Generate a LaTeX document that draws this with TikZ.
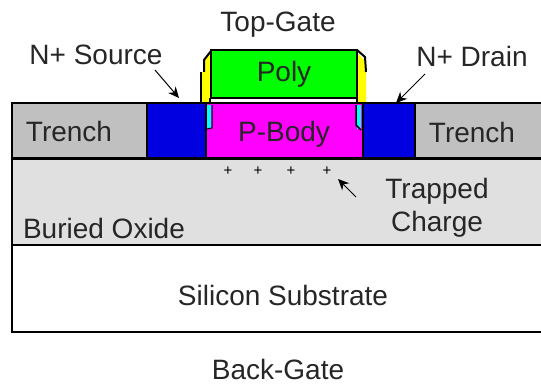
\documentclass[tikz,border=0pt]{standalone}
\usepackage{fontspec}
\setmainfont{Liberation Sans}
\usetikzlibrary{arrows.meta}
\definecolor{bodypink}{RGB}{255,0,255}
\definecolor{polygreen}{RGB}{0,255,0}
\definecolor{dopedblue}{RGB}{0,0,224}
\definecolor{spaceryellow}{RGB}{255,255,0}
\definecolor{oxidecyan}{RGB}{0,255,255}
\definecolor{trenchgray}{RGB}{192,192,192}
\definecolor{oxidegray}{RGB}{224,224,224}
\tikzset{
  regionlabel/.style={font=\fontsize{28}{33}\selectfont, inner sep=0pt, text=black!85},
  outline/.style={line width=2pt, black},
  pointer/.style={-{Stealth[length=11pt, width=10pt]}, line width=1pt, black}
}
\begin{document}
\begin{tikzpicture}[x=1pt, y=-1pt]

  \useasboundingbox (0, 0) rectangle (541, 385);

  % Substrate and oxide
  \fill[white] (12, 245) rectangle (541, 332);
  \fill[oxidegray] (12, 159) rectangle (541, 245);

  % Trench regions
  \fill[trenchgray] (12, 104) rectangle (147, 158);
  \fill[trenchgray] (415, 104) rectangle (541, 158);

  % Source and drain
  \fill[dopedblue] (147, 104) rectangle (206, 158);
  \fill[dopedblue] (363, 104) rectangle (415, 158);

  % Body
  \fill[bodypink] (206, 104) rectangle (363, 158);

  % Poly gate
  \fill[polygreen] (211, 50) rectangle (357, 98);

  % Spacers
  \fill[spaceryellow] (202, 103) -- (202, 72) -- (204, 72) -- (204, 60) -- (210, 54) -- (210, 103) -- cycle;
  \fill[spaceryellow] (366, 103) -- (366, 62) -- (358, 54) -- (358, 103) -- cycle;

  % Thin oxide
  \fill[oxidecyan] (207, 105) rectangle (211, 128);
  \fill[oxidecyan] (357, 105) rectangle (361, 129);

  % Outlines
  \draw[outline] (541, 103) -- (12, 103) -- (12, 332) -- (541, 332);
  \draw[line width=3pt] (12, 159) -- (541, 159);
  \draw[outline] (12, 245) -- (541, 245);
  \draw[outline] (147, 103) -- (147, 159);
  \draw[outline] (206, 103) -- (206, 159);
  \draw[outline] (363, 103) -- (363, 159);
  \draw[outline] (415, 103) -- (415, 159);
  \draw[outline] (211, 98) -- (211, 50) -- (357, 50) -- (357, 98) -- cycle;

  % Spacer edges
  \draw[line width=1.5pt] (201, 103) -- (201, 72);
  \draw[line width=2pt] (204, 72) -- (204, 60) -- (211, 51);
  \draw[line width=2pt] (357, 50) -- (365, 57) -- (366, 72);
  \draw[line width=2pt] (210, 98) -- (210, 103);
  \draw[line width=2pt] (357, 98) -- (357, 103);
  \draw[line width=1pt] (212, 105) -- (212, 128) -- (207, 129);
  \draw[line width=1.5pt] (356, 105) -- (356, 125) -- (361, 130);

  % Labels
  \node[regionlabel] (topgate) at (278, 25) {Top-Gate};
  \node[regionlabel] (source) at (96, 55) {N+ Source};
  \node[regionlabel] (drain) at (472, 56) {N+ Drain};
  \node[regionlabel] (poly) at (284, 74) {Poly};
  \node[regionlabel] (pbody) at (284, 134) {P-Body};
  \node[regionlabel] (trenchl) at (69, 131) {Trench};
  \node[regionlabel] (trenchr) at (472, 132) {Trench};
  \node[regionlabel] (oxide) at (104, 228) {Buried Oxide};
  \node[regionlabel, align=center] (trapped) at (437, 208) {Trapped\\Charge};
  \node[regionlabel] (substrate) at (283, 295) {Silicon Substrate};
  \node[regionlabel] (backgate) at (278, 369) {Back-Gate};

  % Trapped charges
  \foreach \xpos in {228, 258, 291, 327} {
    \node[inner sep=0pt, font=\fontsize{15}{15}\selectfont] (plus\xpos) at (\xpos, 171) {+};
  }

  % Pointers
  \coordinate (sourcetip) at (179, 98);
  \coordinate (sourcetail) at (155, 70);
  \coordinate (draintip) at (396, 103);
  \coordinate (draintail) at (425, 74);
  \coordinate (chargetip) at (338, 179);
  \coordinate (chargetail) at (356, 197);
  \draw[pointer] (sourcetail) -- (sourcetip);
  \draw[pointer] (draintail) -- (draintip);
  \draw[pointer] (chargetail) -- (chargetip);

\end{tikzpicture}
\end{document}
